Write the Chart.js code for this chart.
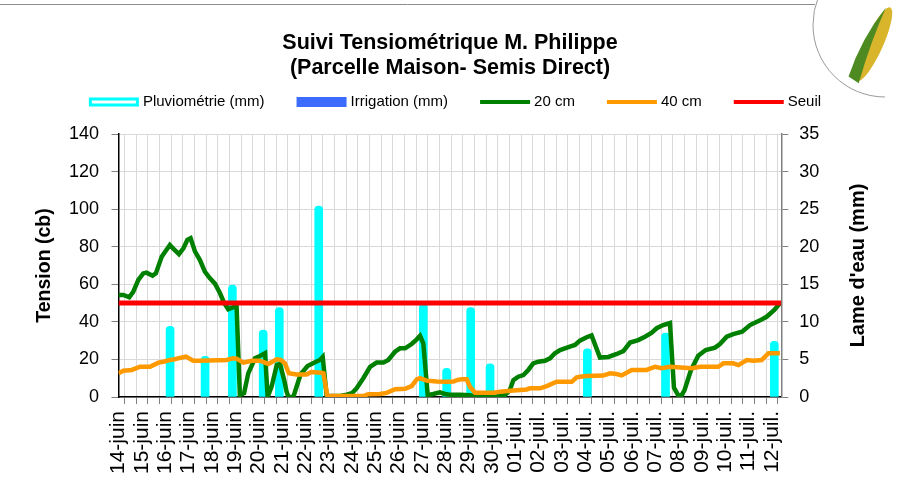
<!DOCTYPE html>
<html>
<head>
<meta charset="utf-8">
<title>Suivi Tensiométrique</title>
<script src="https://cdn.jsdelivr.net/npm/chart.js@4"></script>
<style>
    body { margin: 0; background: #fff; }
    #wrap { width: 900px; height: 496px; }
</style>
</head>
<body>
<div id="wrap"><canvas id="suiviChart" width="900" height="496"></canvas></div>
<script>

/*
    Suivi tensiométrique - tensions 20 / 40 cm, pluie, seuil.
    x = jours depuis le 14-juin (0 = 14-juin).
*/


// DATA

var etiquettesJours = ['14-juin', '15-juin', '16-juin', '17-juin', '18-juin', '19-juin', '20-juin',
    '21-juin', '22-juin', '23-juin', '24-juin', '25-juin', '26-juin', '27-juin', '28-juin', '29-juin',
    '30-juin', '01-juil.', '02-juil.', '03-juil.', '04-juil.', '05-juil.', '06-juil.', '07-juil.',
    '08-juil.', '09-juil.', '10-juil.', '11-juil.', '12-juil.'];

var jours20 = [0, 0.21, 0.46, 0.63, 0.85, 1.06, 1.2, 1.46, 1.6, 1.85,
    2.2, 2.38, 2.59, 2.78, 2.95, 3.09, 3.28, 3.49, 3.7, 3.92,
    4.14, 4.35, 4.52, 4.7, 4.9, 5.06, 5.2, 5.38, 5.56, 5.85,
    6.06, 6.28, 6.39, 6.56, 6.78, 6.92, 7.1, 7.2, 7.28, 7.49,
    7.8, 8.1, 8.42, 8.63, 8.75, 8.92, 9.3, 9.5, 9.78, 10.0,
    10.2, 10.49, 10.78, 11.06, 11.35, 11.56, 11.85, 12.06, 12.28, 12.56,
    12.78, 12.92, 13.06, 13.25, 13.49, 13.77, 13.99, 14.2, 14.63, 15.06,
    15.35, 16.06, 16.56, 16.77, 16.92, 17.13, 17.35, 17.56, 17.77, 17.99,
    18.27, 18.49, 18.7, 18.92, 19.13, 19.34, 19.56, 19.77, 20.06, 20.27,
    20.63, 20.99, 21.35, 21.63, 21.92, 22.27, 22.56, 22.85, 23.06, 23.34,
    23.63, 23.8, 23.99, 24.13, 24.25, 24.52, 24.84, 25.16, 25.56, 25.77,
    26.06, 26.34, 26.72, 27.06, 27.49, 27.77, 28.1, 28.34];
var tension20 = [54.3, 54.3, 53.1, 56, 62.3, 65.8, 66.2, 64.6, 65.8, 74.7,
    80.9, 78.6, 76.1, 79.1, 83.6, 84.5, 77.4, 72.9, 66.7, 63.2,
    60.2, 55.2, 50.2, 46.7, 47.7, 48.1, 1, 2, 12.6, 20.6,
    21.8, 23.3, 0, 5.5, 17, 17.5, 9, 3, 0, 0,
    12, 16.5, 18.5, 19.7, 21.3, 0.5, 0.5, 0.5, 1.2, 2,
    4.6, 10, 16.1, 18.3, 18.3, 19.7, 24.1, 25.9, 25.9, 28.2,
    30.7, 32.6, 28.6, 1, 1.6, 2.5, 1.6, 1.2, 1.2, 1,
    0, 0, 1, 3.7, 9, 10.8, 11.7, 14.4, 17.9, 18.8,
    19.3, 20.6, 23.3, 25, 25.9, 26.8, 27.7, 30, 31.8, 32.8,
    21, 21.3, 22.9, 24.4, 29, 30.3, 32.1, 34.2, 36.6, 38.3,
    39.4, 5, 0.7, 1, 3.5, 14, 22, 25, 26.3, 28.2,
    32.1, 33.5, 34.8, 38.3, 40.8, 42.7, 46.3, 49.9];

var jours40 = [0, 0.21, 0.57, 0.92, 1.35, 1.71, 1.92, 2.2, 2.41, 2.63,
    2.89, 3.2, 3.49, 4.63, 4.92, 5.06, 5.35, 5.7, 6.06, 6.42,
    6.78, 6.95, 7.13, 7.3, 7.63, 8.06, 8.25, 8.7, 8.78, 8.95,
    10.49, 10.7, 11.2, 11.49, 11.85, 12.28, 12.56, 12.78, 12.92, 13.2,
    13.63, 14.06, 14.35, 14.5, 14.7, 14.92, 15.06, 15.28, 16.06, 16.35,
    16.92, 17.49, 17.63, 18.06, 18.35, 18.77, 19.2, 19.42, 19.63, 19.77,
    20.06, 20.77, 21.06, 21.34, 21.56, 21.99, 22.63, 22.99, 23.27, 23.63,
    24.56, 24.92, 25.7, 25.92, 26.34, 26.56, 26.92, 27.2, 27.56, 27.85,
    28.34];
var tension40 = [12.6, 14, 14.4, 16.1, 16.1, 18.3, 18.8, 19.7, 20.1, 20.8,
    21.5, 19.3, 19.3, 19.7, 20.6, 20.4, 18.3, 19.3, 19.3, 17.6,
    20.1, 19.8, 17.9, 12.6, 12, 12, 13.3, 12.9, 12.6, 0.5,
    0.5, 1.5, 1.6, 2.2, 4.1, 4.4, 5.8, 9.4, 10, 8.7,
    8.2, 8.1, 8.2, 9, 9.4, 9.4, 5.5, 2.3, 2.3, 2.8,
    3.4, 4, 4.6, 4.6, 5.8, 8.1, 8.1, 8.1, 10.5, 10.8,
    11.2, 11.4, 12.6, 12.2, 11.5, 14.4, 14.4, 16.1, 15.3, 16.1,
    15.3, 16.1, 16.1, 17.9, 17.9, 17, 19.7, 19.3, 19.7, 23.3,
    23.3];

var joursPluie = [2.21, 3.71, 4.88, 6.2, 6.89, 8.58, 13.06, 14.06, 15.09, 15.92, 20.09, 23.44, 28.1];
var pluie      = [9.4, 5.4, 14.9, 8.9, 11.9, 25.4, 12.4, 3.8, 11.9, 4.4, 6.4, 8.5, 7.4];

var joursIrrigation = [];
var irrigation = [];

var joursSeuil = [0, 28.4];
var seuil = [50, 50];


function points(xs, ys) {
    return xs.map(function(x, i) { return {x: x, y: ys[i]}; });
}

var demiJours = [];
for (var k = 0; k <= 56; k++) demiJours.push(k / 2);


Chart.defaults.font.family = "'Liberation Sans', Arial, sans-serif";
Chart.defaults.color = '#000';



// LEGENDE, TITRE DROIT ET DECOR

var decor = {
    id: 'decor',
    afterDraw: function(chart) {
        var c = chart.ctx;
        c.save();

        // cadre haut
        c.strokeStyle = '#8c8c8c';
        c.lineWidth = 1;
        c.beginPath();
        c.moveTo(0, 4.5);
        c.lineTo(815, 4.5);
        c.stroke();

        // logo (cercle + epi)
        c.beginPath();
        c.arc(885, 25, 72, Math.PI * 0.5, Math.PI * 1.25);
        c.strokeStyle = '#9a9a9a';
        c.stroke();
        c.translate(874, 44);
        c.rotate(0.42);
        c.beginPath();
        c.ellipse(0, 0, 9, 40, 0, 0, Math.PI * 2);
        c.fillStyle = '#d9b52c';
        c.fill();
        c.beginPath();
        c.moveTo(-10, 40);
        c.quadraticCurveTo(-14, 0, -4, -38);
        c.quadraticCurveTo(-4, 0, 2, 42);
        c.closePath();
        c.fillStyle = '#4d8a22';
        c.fill();
        c.setTransform(1, 0, 0, 1, 0, 0);

        // titre axe droit
        var y2 = chart.scales.y2;
        c.font = "bold 20px 'Liberation Sans', Arial, sans-serif";
        c.fillStyle = '#000';
        c.textAlign = 'center';
        c.textBaseline = 'middle';
        c.translate(858, (y2.top + y2.bottom) / 2);
        c.rotate(-Math.PI / 2);
        c.fillText("Lame d'eau (mm)", 0, 0);
        c.setTransform(1, 0, 0, 1, 0, 0);

        // legende
        c.font = "15px 'Liberation Sans', Arial, sans-serif";
        c.textAlign = 'left';
        var ly = 102, boxW = 50, gap = 4, itemGap = 32;
        var sets = chart.data.datasets;
        var total = 0;
        sets.forEach(function(ds, i) {
            total += boxW + gap + c.measureText(ds.label).width + (i > 0 ? itemGap : 0);
        });
        var lx = 455 - total / 2;
        sets.forEach(function(ds) {
            if (ds.type === 'bar') {
                if (ds.legendOutline) {
                    c.fillStyle = '#ffffff';
                    c.fillRect(lx, ly - 4.5, boxW, 9);
                    c.strokeStyle = ds.backgroundColor;
                    c.lineWidth = 3;
                    c.strokeRect(lx + 1.5, ly - 3, boxW - 3, 6);
                } else {
                    c.fillStyle = ds.backgroundColor;
                    c.fillRect(lx, ly - 5, boxW, 10);
                }
            } else {
                c.strokeStyle = ds.borderColor;
                c.lineWidth = 4;
                c.beginPath();
                c.moveTo(lx, ly);
                c.lineTo(lx + boxW, ly);
                c.stroke();
            }
            lx += boxW + gap;
            c.fillStyle = '#000';
            c.fillText(ds.label, lx, ly);
            lx += c.measureText(ds.label).width + itemGap;
        });

        c.restore();
    }
};



// GRAPHIQUE

var ctx = document.getElementById('suiviChart').getContext('2d');

var suivi = new Chart(ctx, {
    type: 'line',

    data: {
        datasets: [
            {
                type: 'bar',
                label: 'Pluviométrie (mm)',
                data: points(joursPluie, pluie),
                yAxisID: 'y2',
                backgroundColor: '#00ffff',
                barThickness: 8,
                borderRadius: 4,
                grouped: false,
                legendOutline: true,
                order: 5,},
            {
                type: 'bar',
                label: 'Irrigation (mm)',
                data: points(joursIrrigation, irrigation),
                yAxisID: 'y2',
                backgroundColor: '#3b6cff',
                barThickness: 8,
                grouped: false,
                order: 4,},
            {
                label: '20 cm',
                data: points(jours20, tension20),
                yAxisID: 'y',
                borderColor: '#008000',
                borderWidth: 4.5,
                pointRadius: 0,
                tension: 0,
                order: 3,},
            {
                label: '40 cm',
                data: points(jours40, tension40),
                yAxisID: 'y',
                borderColor: '#ff9900',
                borderWidth: 4.5,
                pointRadius: 0,
                tension: 0,
                order: 2,},
            {
                label: 'Seuil',
                data: points(joursSeuil, seuil),
                yAxisID: 'y',
                borderColor: '#ff0000',
                borderWidth: 5,
                pointRadius: 0,
                order: 1,},
        ],
    },

    options: {
        responsive: false,
        animation: false,
        layout: {padding: 0},

        scales: {
            x: {
                type: 'linear',
                min: 0,
                max: 28.4,
                offset: false,
                afterBuildTicks: function(scale) {
                    scale.ticks = demiJours.map(function(v) { return {value: v}; });},
                afterFit: function(scale) { scale.height = 99; },
                grid: {color: '#d9d9d9', lineWidth: 1, tickColor: '#808080', tickLength: 7},
                border: {color: '#000', width: 1.5},
                ticks: {
                    autoSkip: false,
                    minRotation: 90,
                    maxRotation: 90,
                    padding: 7,
                    font: {size: 21},
                    callback: function(v) {
                        return Number.isInteger(v) ? etiquettesJours[v] : '';},},},
            y: {
                position: 'left',
                min: 0,
                max: 140,
                afterFit: function(scale) { scale.width = 118.5; },
                grid: {color: '#d9d9d9', lineWidth: 1, tickColor: '#808080', tickLength: 7},
                border: {color: '#000', width: 1.5},
                ticks: {stepSize: 20, padding: 12.5, font: {size: 18}},
                title: {
                    display: true,
                    text: 'Tension (cb)',
                    font: {size: 19.5, weight: 'bold', lineHeight: 1.2},
                    padding: {top: 32.5, bottom: 0},},},
            y2: {
                position: 'right',
                min: 0,
                max: 35,
                afterFit: function(scale) { scale.width = 118.7; },
                grid: {drawOnChartArea: false, tickColor: '#808080', tickLength: 7},
                border: {color: '#808080', width: 1.5},
                ticks: {stepSize: 5, padding: 11, font: {size: 18}},},
        },

        plugins: {
            legend: {display: false},
            tooltip: {enabled: false},
            title: {
                display: true,
                text: ['Suivi Tensiométrique M. Philippe', '(Parcelle Maison- Semis Direct)'],
                color: '#000',
                font: {size: 21.5, weight: 'bold', lineHeight: 1.17},
                padding: {top: 30.4, bottom: 53.3},},},
    },

    plugins: [decor],
});

</script>
</body>
</html>
